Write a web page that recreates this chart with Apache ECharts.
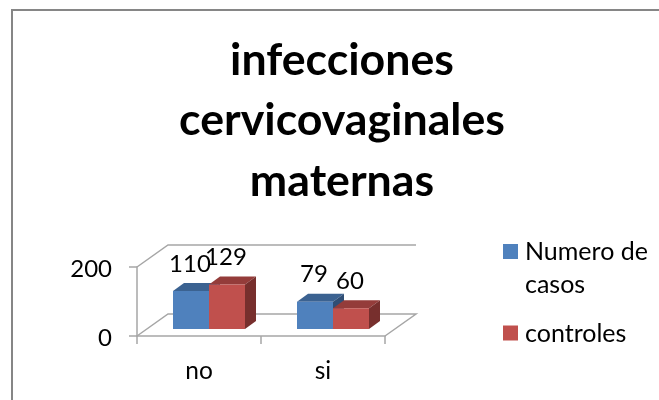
<!DOCTYPE html>
<html>
<head>
<meta charset="utf-8">
<style>html,body{margin:0;padding:0;background:#fff}#c{width:659px;height:400px}</style>
<script src="https://cdn.jsdelivr.net/npm/echarts@6/dist/echarts.min.js"></script>
</head>
<body>
<div id="c"></div>
<script>
var titleText = 'infecciones\ncervicovaginales\nmaternas';
var categories = ['no', 'si'];
var seriesNames = ['Numero de\ncasos', 'controles'];
var casos = [110, 79];
var controles = [129, 60];
var yTicks = [0, 200];

var FONT = 'Lato, "Open Sans", sans-serif';
var DEPTH = [31, -22];
var BAR_W = 36, SHIFT_X = 10, SHIFT_Y = -7, BD_X = 11, BD_Y = -8;

function barItem(side, cFront, cTop, cSide) {
  return function (params, api) {
    var p = api.coord([api.value(0), api.value(1)]);
    var b = api.coord([api.value(0), 0]);
    var x0 = p[0] + SHIFT_X + (side < 0 ? -BAR_W : 0);
    var x1 = x0 + BAR_W;
    var yT = p[1] + SHIFT_Y, yB = b[1] + SHIFT_Y;
    return {
      type: 'group',
      children: [
        { type: 'polygon', shape: { points: [[x0, yT], [x0 + BD_X, yT + BD_Y], [x1 + BD_X, yT + BD_Y], [x1, yT]] }, style: { fill: cTop } },
        { type: 'polygon', shape: { points: [[x1, yT], [x1 + BD_X, yT + BD_Y], [x1 + BD_X, yB + BD_Y], [x1, yB]] }, style: { fill: cSide } },
        { type: 'rect', shape: { x: x0, y: yT, width: BAR_W, height: yB - yT }, style: { fill: cFront } },
        { type: 'text', z2: 50, style: { text: String(api.value(1)), x: (x0 + x1) / 2 - 1, y: yT - 27, align: 'center', verticalAlign: 'middle', fill: '#000', font: '24px ' + FONT } }
      ]
    };
  };
}

function wallItem(params, api) {
  var v = api.value(0);
  var a = api.coord([0, v]);
  var left = a[0] - api.size([1, 0])[0] / 2;
  var right = left + api.size([1, 0])[0] * categories.length;
  var y = a[1];
  var pts = [[left, y], [left + DEPTH[0], y + DEPTH[1]], [right + DEPTH[0], y + DEPTH[1]]];
  if (v === 0) pts.push([right, y]);
  return { type: 'polyline', shape: { points: pts }, style: { fill: 'none', stroke: '#a6a6a6', lineWidth: 1.5 } };
}

var chart = echarts.init(document.getElementById('c'), null, { renderer: 'canvas' });
chart.setOption({
  animation: false,
  backgroundColor: '#fff',
  title: {
    text: titleText, left: 342, top: 30, textAlign: 'center', padding: 0,
    textStyle: { fontFamily: FONT, fontWeight: 'bold', fontSize: 44.7, lineHeight: 60.5, color: '#000' }
  },
  legend: {
    left: 503, top: 235.5, padding: 0, orient: 'vertical', itemGap: 8, itemWidth: 15, itemHeight: 49,
    selectedMode: false,
    textStyle: { fontFamily: FONT, fontSize: 25, lineHeight: 33, color: '#000', padding: [0, 0, 0, 2] },
    data: [
      { name: seriesNames[0], icon: 'path://M0 0H15V15H0Z M0 49' },
      { name: seriesNames[1], icon: 'path://M0 16H15V31H0Z M0 0 M0 49' }
    ]
  },
  grid: { left: 137, top: 267, width: 248, height: 69, containLabel: false },
  xAxis: {
    type: 'category', data: categories,
    axisLine: { lineStyle: { color: '#a6a6a6', width: 1.5 } },
    axisTick: { show: true, length: 8, alignWithLabel: false, lineStyle: { color: '#a6a6a6', width: 1.5 } },
    axisLabel: { color: '#000', fontFamily: FONT, fontSize: 24.5, margin: 23 }
  },
  yAxis: {
    type: 'value', min: yTicks[0], max: yTicks[1], interval: yTicks[1],
    splitLine: { show: false },
    axisLine: { show: true, lineStyle: { color: '#a6a6a6', width: 1.5 } },
    axisTick: { show: true, length: 8, lineStyle: { color: '#a6a6a6', width: 1.5 } },
    axisLabel: { color: '#000', fontFamily: FONT, fontSize: 24, margin: 25, verticalAlign: 'top', lineHeight: 5 }
  },
  graphic: [{
    type: 'rect', z: -1, silent: true,
    shape: { x: 12, y: 10, width: 660, height: 400 },
    style: { fill: 'none', stroke: '#868686', lineWidth: 2 }
  }],
  series: [
    { type: 'custom', name: 'paredes', silent: true, z: 1, clip: false, renderItem: wallItem, encode: { y: 0 }, data: yTicks.map(function (v) { return [v]; }) },
    { type: 'custom', name: seriesNames[0], z: 3, clip: false, itemStyle: { color: '#4f81bd' }, renderItem: barItem(-1, '#4f81bd', '#3b6291', '#2f4e75'), encode: { x: 0, y: 1 }, data: casos.map(function (v, i) { return [i, v]; }) },
    { type: 'custom', name: seriesNames[1], z: 4, clip: false, itemStyle: { color: '#c0504d' }, renderItem: barItem(1, '#c0504d', '#943c3a', '#772f2d'), encode: { x: 0, y: 1 }, data: controles.map(function (v, i) { return [i, v]; }) }
  ]
});
</script>
</body>
</html>
